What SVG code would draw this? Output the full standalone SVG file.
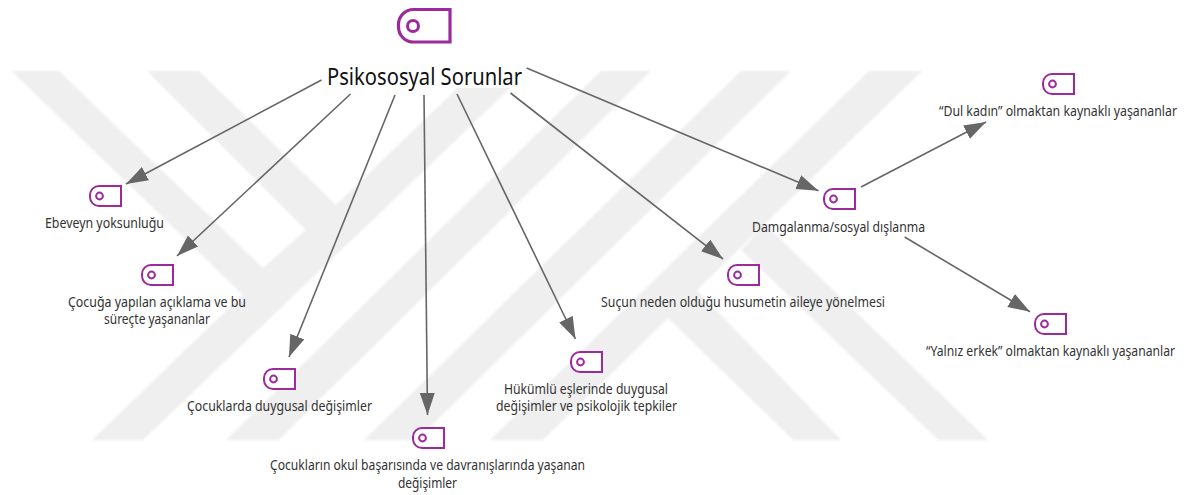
<svg xmlns="http://www.w3.org/2000/svg" width="1190" height="495" viewBox="0 0 1190 495">
<style>
.wm{fill:#efefef}
.ic{fill:#fff;stroke:#9c2a9c;stroke-width:2}
.ic2{fill:none;stroke:#9c2a9c;stroke-width:2}
.t{font-family:"Noto Sans","Open Sans",sans-serif;font-size:14px;fill:#333}
.e{text-anchor:end}
.root{font-family:"Noto Sans","Open Sans",sans-serif;font-size:23px;fill:#111}
.c{fill:none;stroke:#666;stroke-width:1.6;marker-end:url(#ah)}
</style>
<defs>
<filter id="soft" x="-2%" y="-2%" width="104%" height="104%"><feGaussianBlur stdDeviation="0.9"/></filter>
<marker id="ah" markerUnits="userSpaceOnUse" markerWidth="24" markerHeight="18" refX="22" refY="7.5" orient="auto"><path d="M0 0L22 7.5L0 15Z" fill="#666"/></marker>
<g id="note"><path class="ic" d="M10 1H32V21H10A9 9 0 0 1 1 12V10A9 9 0 0 1 10 1Z"/><circle class="ic2" cx="10.5" cy="11" r="3.4"/></g>
</defs>
<rect width="1190" height="495" fill="#fff"/>
<g id="watermark" filter="url(#soft)">
<polygon class="wm" points="92,440 143,440 528,71 475,71"/>
<polygon class="wm" points="226,440 279,440 651,71 601,71"/>
<polygon class="wm" points="364,440 417,440 791,71 741,71"/>
<polygon class="wm" points="490,440 543,440 922,71 869,71"/>
<polygon class="wm" points="11.5,71 59,71 263,268 306,230 147,71 199,71 336,205 280,300 243,295"/>
<polygon class="wm" points="765,224 988,440 938,440 741,250"/>
<polygon class="wm" points="697,290 841,440 793,440 668,318"/>
</g>
<rect x="322" y="60" width="205" height="28" fill="#fff"/>
<g id="connectors">
<path class="c" d="M321.5 80L126 184"/>
<path class="c" d="M350.5 94L177 256"/>
<path class="c" d="M395 95L289 357"/>
<path class="c" d="M424 95L427.5 415"/>
<path class="c" d="M457 94L575.5 339"/>
<path class="c" d="M510.5 93L723 259"/>
<path class="c" d="M526.6 68L818.5 190.7"/>
<path class="c" d="M861 187L986 122"/>
<path class="c" d="M904.6 237L1030 311.7"/>
</g>
<g id="root">
<path class="ic" style="stroke-width:3.2" d="M414 9.5H450V42H414A15 15 0 0 1 398.5 27V25A15 15 0 0 1 414 9.5Z"/>
<circle class="ic2" style="stroke-width:3" cx="413" cy="26" r="5.5"/>
<text class="root" x="327" y="85" textLength="195" lengthAdjust="spacingAndGlyphs">Psikososyal Sorunlar</text>
</g>
<g id="n1"><use href="#note" x="89" y="185"/><text class="t" x="45" y="228" textLength="119" lengthAdjust="spacingAndGlyphs">Ebeveyn yoksunluğu</text></g>
<g id="n2"><use href="#note" x="141" y="264"/><text class="t" x="68" y="307" textLength="178" lengthAdjust="spacingAndGlyphs">Çocuğa yapılan açıklama ve bu</text><text class="t" x="104" y="324" textLength="106" lengthAdjust="spacingAndGlyphs">süreçte yaşananlar</text></g>
<g id="n3"><use href="#note" x="263" y="368"/><text class="t" x="187" y="411" textLength="185" lengthAdjust="spacingAndGlyphs">Çocuklarda duygusal değişimler</text></g>
<g id="n4"><use href="#note" x="412" y="427"/><text class="t" x="270" y="470" textLength="315" lengthAdjust="spacingAndGlyphs">Çocukların okul başarısında ve davranışlarında yaşanan</text><text class="t" x="398" y="488" textLength="59" lengthAdjust="spacingAndGlyphs">değişimler</text></g>
<g id="n5"><use href="#note" x="570" y="351"/><text class="t" x="504" y="394" textLength="164" lengthAdjust="spacingAndGlyphs">Hükümlü eşlerinde duygusal</text><text class="t" x="496" y="411" textLength="181" lengthAdjust="spacingAndGlyphs">değişimler ve psikolojik tepkiler</text></g>
<g id="n6"><use href="#note" x="727" y="264"/><text class="t" x="601" y="307" textLength="284" lengthAdjust="spacingAndGlyphs">Suçun neden olduğu husumetin aileye yönelmesi</text></g>
<g id="n7"><use href="#note" x="823" y="188"/><text class="t" x="752" y="232" textLength="173" lengthAdjust="spacingAndGlyphs">Damgalanma/sosyal dışlanma</text></g>
<g id="n8"><use href="#note" x="1042" y="73"/><text class="t e" x="1177" y="116" textLength="238" lengthAdjust="spacingAndGlyphs">“Dul kadın” olmaktan kaynaklı yaşananlar</text></g>
<g id="n9"><use href="#note" x="1034" y="313"/><text class="t e" x="1175" y="356" textLength="249" lengthAdjust="spacingAndGlyphs">“Yalnız erkek” olmaktan kaynaklı yaşananlar</text></g>
</svg>
